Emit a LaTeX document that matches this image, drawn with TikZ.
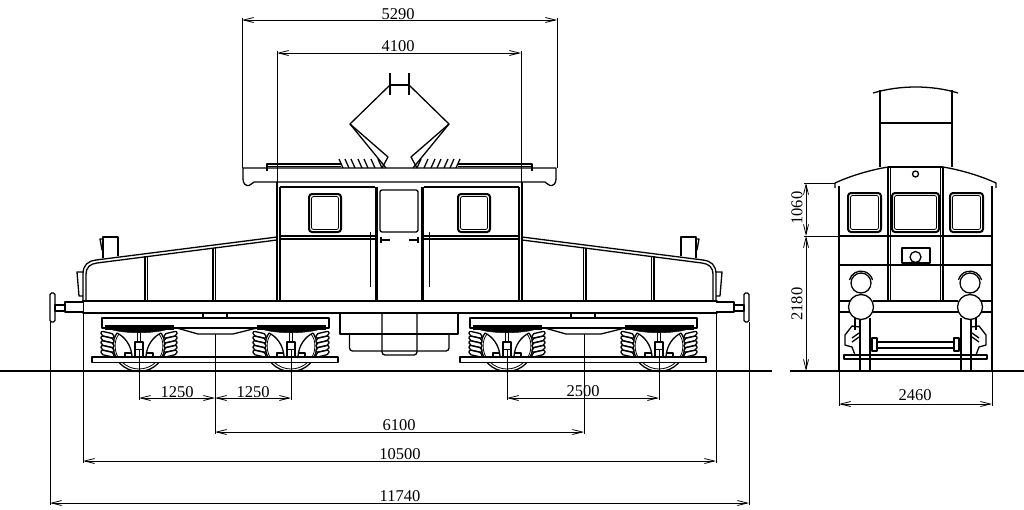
\documentclass[tikz,border=0pt]{standalone}
\usepackage{fontspec}
\setmainfont{Liberation Serif}
\usetikzlibrary{arrows.meta}

\tikzset{
  part/.style={line width=1.3pt, line join=round},
  heavy/.style={line width=2pt, line join=round},
  fine/.style={line width=0.8pt},
  dim/.style={line width=0.8pt, <->},
  dimlabel/.style={inner sep=0pt, font=\fontsize{16.5}{17}\selectfont}
}

\begin{document}
\begin{tikzpicture}[>={Straight Barb[length=10pt,width=5pt]}, x=1pt, y=-1pt]
\useasboundingbox (0,0) rectangle (1024,509);

% ground
\draw[part] (0,371) -- (772,371);
\draw[heavy] (790,371) -- (1024,371);

% wheels
\foreach \ax in {139,291,507,659}{
  \begin{scope}
    \clip (\ax-30,363) rectangle (\ax+30,373);
    \draw[part] (\ax,345) circle (26.5);
    \draw[fine] (\ax,345) circle (24);
  \end{scope}
}

% frame
\draw[part] (83,301) rectangle (717,313);

% both ends of the side view
\foreach \flip in {1,-1}{
\begin{scope}[xshift=399.5pt, xscale=\flip, xshift=-399.5pt]
  % buffer
  \draw[part, fill=white] (83,302) -- (65,302) -- (65,312) -- (83,312);
  \draw[part] (65,305) -- (55,305) -- (55,311) -- (65,311);
  \draw[part, rounded corners=1.5pt] (50,293) rectangle (55,322);
  % hood
  \draw[part] (83,301) -- (83,274) .. controls (83,265) and (88,261) .. (96,260) -- (277,237);
  \draw[part] (86,301) -- (86,275) .. controls (86,267) and (90,264) .. (97,263) -- (277,240);
  \draw[part] (145,256) -- (145,301) (147.5,256) -- (147.5,301);
  \draw[part] (213,248) -- (213,301) (215.5,248) -- (215.5,301);
  % lamps
  \draw[part] (103,258) -- (103,237) -- (118,237) -- (118,256);
  \draw[part] (103,239) -- (100,239) -- (102,250) -- (103,250);
  \draw[part] (83,272) -- (77,272) -- (79,296) -- (83,296);
  % cab side
  \draw[part] (277,182) -- (277,301);
  \draw[heavy] (280,187) -- (280,301);
  \draw[heavy] (280,187) -- (375,187);
  \draw[part] (280,236) -- (375,236) (280,239) -- (375,239);
  \draw[heavy, line width=2.6pt] (376.5,187) -- (376.5,301);
  \draw[part, line width=1pt] (370,232) -- (370,287);
  % cab window
  \draw[heavy, rounded corners=3pt] (309,194) rectangle (341,232);
  \draw[fine, rounded corners=2pt] (311.5,196.5) rectangle (338.5,229.5);
  % door handle
  \draw[part] (381,237) -- (381,243) (381,240) -- (390,240);
  % roof end
  \draw[part] (267,171) -- (267,164) -- (341,164);
  \draw[fine] (267,166) -- (341,166);
  % pantograph
  \draw[part] (390,73) -- (390,95);
  \draw[part] (390,85) -- (350,124) -- (388,157) -- (382,168);
  \draw[part] (350,124) -- (386,168);
  % insulators
  \foreach \bx in {339,345,351,358,364,371,378}{
    \draw[part] (\bx,159) -- (\bx+4,168);
  }
\end{scope}
}
\draw[part] (390,85) -- (409,85);

% roof
\draw[part] (243,168) -- (556,168) -- (556,179) .. controls (556,184) and (553,186) .. (550,185.5)
  .. controls (548,185) and (547,183) .. (545,182) -- (254,182)
  .. controls (252,183) and (251,185) .. (249,185.5) .. controls (246,186) and (243,184) .. (243,179) -- cycle;

% door
\draw[part, rounded corners=2pt] (380,190) rectangle (418,232);

% centre equipment
\draw[part] (340,313) -- (340,334) -- (458,334) -- (458,313);
\draw[part, rounded corners=3pt] (349.5,334) -- (349.5,351) -- (449,351) -- (449,334);
\draw[part, rounded corners=3pt] (382,313) -- (382,355) -- (417,355) -- (417,313);

% bogies
\foreach \tr in {0,368}{
\begin{scope}[shift={(\tr,0)}]
  \draw[part] (203,313) rectangle (227,318);
  \draw[part, fill=white] (102,318) rectangle (329,328);
  \draw[part] (177,328) -- (198,334) -- (233,334) -- (257,328);
  \draw[part, fill=white] (92,357) rectangle (338,362.5);
\end{scope}
}

% axle units
\foreach \ax in {139,291,507,659}{
\begin{scope}[shift={(\ax,0)}]
  \draw[fill=black, line width=0.4pt] (-34,325) rectangle (34,329);
  \draw[fill=black] (-30,329) .. controls (-14,334) and (14,334) .. (30,329) -- cycle;
  \draw[part] (-1.5,329) -- (-1.5,342) (1.5,329) -- (1.5,342);
  \draw[part] (-4,342) rectangle (4,357);
  \draw[fine] (-4,349) -- (4,349);
  \foreach \flip in {1,-1}{
  \begin{scope}[xscale=\flip]
    \draw[part] (-22,333) .. controls (-27,340) and (-27,350) .. (-23,357);
    \draw[fine] (-20,334) .. controls (-25,340) and (-25,350) .. (-21,357);
    \draw[part] (-7,356) .. controls (-8,345) and (-14,337) .. (-22,333);
    \draw[part] (-14,357) -- (-14,353) -- (-8,353);
    \foreach \t in {0,...,4}{
      \draw[part, fill=white, rounded corners=2pt] (-38,331+4.7*\t) -- (-25,334+4.7*\t) -- (-25,338.5+4.7*\t) -- (-38,335.5+4.7*\t) -- cycle;
    }
  \end{scope}
  }
\end{scope}
}

% end view
\draw[part] (880,167) -- (880,90) (952,167) -- (952,90) (880,123) -- (952,123);
\draw[part] (873,93) .. controls (900,85) and (932,85) .. (958,93);
\draw[part] (888,167) -- (943,167);
\draw[part] (915.5,174) circle (3);
\draw[part] (839,236) -- (992,236) (839,265) -- (992,265);
\draw[part] (902,248) rectangle (930,263);
\draw[part] (915.5,257) circle (5.5);
\draw[part] (877,342) -- (955,342) (877,348) -- (955,348);
\draw[part] (873,312) -- (958,312) (873,301) -- (958,301);
\draw[part, fill=white] (844,355) rectangle (987,359);
\draw[heavy, rounded corners=3pt] (892,193) rectangle (939,232);
\draw[fine, rounded corners=2pt] (894.5,195.5) rectangle (936.5,229.5);
\foreach \flip in {1,-1}{
\begin{scope}[xshift=915.5pt, xscale=\flip, xshift=-915.5pt]
  \draw[part] (888,167) .. controls (870,170) and (850,176) .. (835,183) -- (835,188);
  \draw[part] (839,186) -- (839,371);
  \draw[part] (888,167) -- (888,301) (890.5,167) -- (890.5,301);
  \draw[heavy, rounded corners=3pt] (848,193) rectangle (881,232);
  \draw[fine, rounded corners=2pt] (850.5,195.5) rectangle (878.5,229.5);
  \draw[part] (839,301) -- (850,301) (839,312) -- (850,312);
  \draw[part] (855,318) -- (855,330) (860,318) -- (860,371);
  \draw[heavy, line width=2.8pt] (870,318) -- (870,372);
  \draw[part] (860,327) -- (852,326) -- (845,335) -- (845,345) -- (852,347) -- (855,355) -- (860,355);
  \draw[part] (852,338) -- (859,333) (852,342) -- (859,337);
  \draw[part, fill=white] (872,338) rectangle (877,351);
  \draw[part, fill=white] (861,283) circle (10);
  \draw[part] (849.4,280) arc[start angle=195, end angle=345, radius=12];
  \draw[part, fill=white] (861,307) circle (12.5);
\end{scope}
}

% dimension lines
\draw[fine] (242,18) -- (242,168) (557,18) -- (557,168);
\draw[fine] (277,51) -- (277,183) (521,51) -- (521,183);
\draw[dim] (242,20) -- (557,20);
\draw[dim] (277,53) -- (521,53);
\draw[fine] (139,349) -- (139,400) (291,349) -- (291,400) (507,349) -- (507,400) (659,349) -- (659,400);
\draw[fine] (215,334) -- (215,434) (584,334) -- (584,434);
\draw[dim] (139,398) -- (215,398);
\draw[dim] (215,398) -- (291,398);
\draw[dim] (507,398) -- (659,398);
\draw[dim] (215,432) -- (584,432);
\draw[fine] (83,313) -- (83,463) (716,313) -- (716,463);
\draw[dim] (83,461) -- (716,461);
\draw[fine] (50,322) -- (50,505) (749,322) -- (749,505);
\draw[dim] (50,503) -- (749,503);
\draw[fine] (804,183) -- (835,183) (804,236) -- (839,236);
\draw[dim] (806,183) -- (806,236);
\draw[dim] (806,236) -- (806,371);
\draw[fine] (839,371) -- (839,406) (992,371) -- (992,406);
\draw[dim] (839,404) -- (992,404);

% dimension labels
\node[dimlabel] (wRoof) at (398,14) {5290};
\node[dimlabel] (wPant) at (398,46.5) {4100};
\node[dimlabel] (axA) at (177,392) {1250};
\node[dimlabel] (axB) at (253,392) {1250};
\node[dimlabel] (axC) at (583,391.5) {2500};
\node[dimlabel] (pivot) at (399,425.5) {6100};
\node[dimlabel] (frame) at (400,454) {10500};
\node[dimlabel] (total) at (400,496) {11740};
\node[dimlabel, rotate=90] (hCab) at (797,208) {1060};
\node[dimlabel, rotate=90] (hLow) at (797,304) {2180};
\node[dimlabel] (wBody) at (915,395.5) {2460};

\end{tikzpicture}
\end{document}
